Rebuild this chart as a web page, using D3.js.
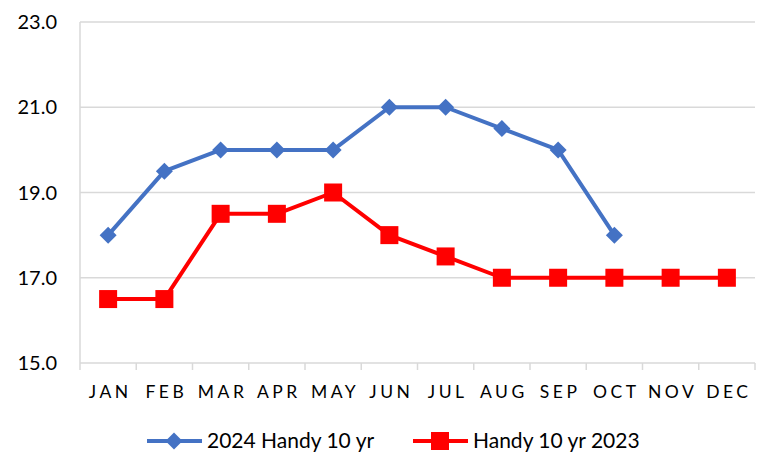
<!DOCTYPE html>
<html>
<head>
<meta charset="utf-8">
<script src="https://cdn.jsdelivr.net/npm/d3@7"></script>
<style>
  body { margin: 0; background: #fff; }
  text { font-family: Lato, "Open Sans", sans-serif; fill: #000; }
</style>
</head>
<body>
<div id="chart"></div>
<script>
var months = ['JAN', 'FEB', 'MAR', 'APR', 'MAY', 'JUN', 'JUL', 'AUG', 'SEP', 'OCT', 'NOV', 'DEC'];
var handy2024 = [18, 19.5, 20, 20, 20, 21, 21, 20.5, 20, 18];
var handy2023 = [16.5, 16.5, 18.5, 18.5, 19, 18, 17.5, 17, 17, 17, 17, 17];
var yTicks = [15, 17, 19, 21, 23];

var width = 760, height = 453;
var plotLeft = 80, plotRight = 755, plotTop = 22, plotBottom = 363;

var svg = d3.select('#chart').append('svg')
    .attr('width', width)
    .attr('height', height);

var x = d3.scaleBand().domain(months).range([plotLeft, plotRight]);
var y = d3.scaleLinear().domain([15, 23]).range([plotBottom, plotTop]);

// gridlines
svg.selectAll('.grid')
    .data(yTicks)
  .enter().append('line')
    .attr('class', 'grid')
    .attr('x1', plotLeft).attr('x2', plotRight)
    .attr('y1', (d) => y(d)).attr('y2', (d) => y(d))
    .attr('stroke', '#d9d9d9')
    .attr('stroke-width', 1.5);

// left axis line
svg.append('line')
    .attr('x1', plotLeft).attr('x2', plotLeft)
    .attr('y1', plotTop).attr('y2', plotBottom)
    .attr('stroke', '#d9d9d9')
    .attr('stroke-width', 1.5);

// y labels
svg.selectAll('.ylab')
    .data(yTicks)
  .enter().append('text')
    .attr('class', 'ylab')
    .attr('x', 57)
    .attr('y', (d) => y(d) + 7)
    .attr('text-anchor', 'end')
    .attr('font-size', 20)
    .text((d) => d.toFixed(1));

// x tick marks between categories
var tickPos = months.map((m) => x(m)).concat([plotRight]);
svg.selectAll('.xtick')
    .data(tickPos)
  .enter().append('line')
    .attr('class', 'xtick')
    .attr('x1', (d) => d).attr('x2', (d) => d)
    .attr('y1', plotBottom).attr('y2', plotBottom + 7)
    .attr('stroke', '#d9d9d9')
    .attr('stroke-width', 1.5);

// x labels
svg.selectAll('.xlab')
    .data(months)
  .enter().append('text')
    .attr('class', 'xlab')
    .attr('x', (d) => x(d) + x.bandwidth() / 2 + 2)
    .attr('y', 398)
    .attr('text-anchor', 'middle')
    .attr('font-size', 17.5)
    .attr('letter-spacing', 3.5)
    .text((d) => d);

var line = d3.line()
    .x((d, i) => x(months[i]) + x.bandwidth() / 2)
    .y((d) => y(d));

var blue = '#4472c4', red = '#ff0000';

// 2024 series
svg.append('path')
    .datum(handy2024)
    .attr('d', line)
    .attr('fill', 'none')
    .attr('stroke', blue)
    .attr('stroke-width', 4)
    .attr('stroke-linejoin', 'round');

svg.selectAll('.diamond')
    .data(handy2024)
  .enter().append('path')
    .attr('class', 'diamond')
    .attr('d', 'M0,-8.5L8.5,0L0,8.5L-8.5,0Z')
    .attr('transform', (d, i) => 'translate(' + (x(months[i]) + x.bandwidth() / 2) + ',' + y(d) + ')')
    .attr('fill', blue);

// 2023 series
svg.append('path')
    .datum(handy2023)
    .attr('d', line)
    .attr('fill', 'none')
    .attr('stroke', red)
    .attr('stroke-width', 4)
    .attr('stroke-linejoin', 'round');

svg.selectAll('.square')
    .data(handy2023)
  .enter().append('rect')
    .attr('class', 'square')
    .attr('x', (d, i) => x(months[i]) + x.bandwidth() / 2 - 9)
    .attr('y', (d) => y(d) - 9)
    .attr('width', 18)
    .attr('height', 18)
    .attr('fill', red);

// legend
var legend = [
  { name: '2024 Handy 10 yr', color: blue, shape: 'diamond', x: 147 },
  { name: 'Handy 10 yr 2023', color: red, shape: 'square', x: 413 }
];
var ly = 441;
legend.forEach(function(l) {
  svg.append('line')
      .attr('x1', l.x).attr('x2', l.x + 55)
      .attr('y1', ly).attr('y2', ly)
      .attr('stroke', l.color)
      .attr('stroke-width', 4);
  if (l.shape === 'diamond') {
    svg.append('path')
        .attr('d', 'M0,-8.5L8.5,0L0,8.5L-8.5,0Z')
        .attr('transform', 'translate(' + (l.x + 27) + ',' + ly + ')')
        .attr('fill', l.color);
  } else {
    svg.append('rect')
        .attr('x', l.x + 27 - 9).attr('y', ly - 9)
        .attr('width', 18).attr('height', 18)
        .attr('fill', l.color);
  }
  svg.append('text')
      .attr('x', l.x + 60)
      .attr('y', ly + 7)
      .attr('font-size', 21)
      .text(l.name);
});
</script>
</body>
</html>
